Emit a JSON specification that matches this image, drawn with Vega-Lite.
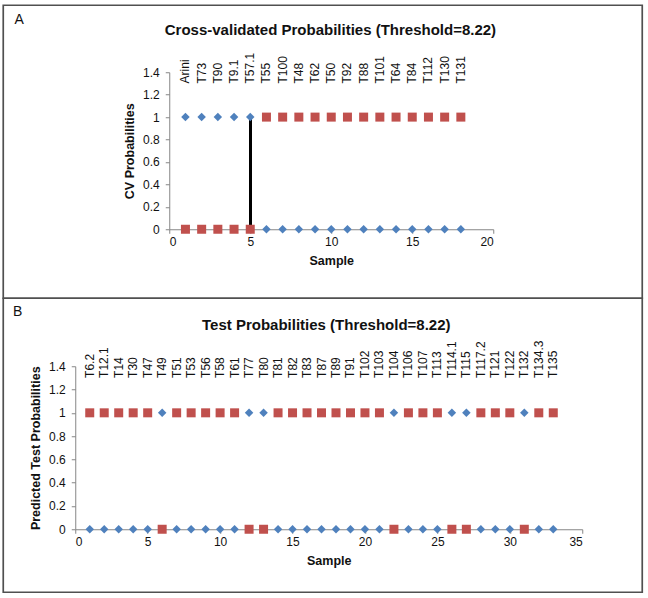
{
  "$schema": "https://vega.github.io/schema/vega-lite/v6.json",
  "padding": {"left": 2.25, "top": 4.25, "right": 5, "bottom": 5},
  "background": "white",
  "bounds": "flush",
  "spacing": 0,
  "config": {
    "view": {"stroke": "#505050", "strokeWidth": 1.7},
    "font": "Liberation Sans",
    "axis": {
      "grid": false,
      "domainColor": "#868686",
      "tickColor": "#868686",
      "tickSize": 4,
      "labelFont": "Liberation Sans",
      "labelFontSize": 12,
      "labelColor": "#111111",
      "titleFont": "Liberation Sans",
      "titleFontSize": 12.5,
      "titleFontWeight": "bold",
      "titleColor": "#111111"
    },
    "axisX": {"labelPadding": 3, "titlePadding": 7},
    "axisY": {"labelPadding": 6, "titlePadding": 6}
  },
  "resolve": {"scale": {"x": "independent", "y": "independent"}},
  "datasets": {
    "cv": [
      {"sample": 1, "label": "Arini", "blue": 1, "red": 0},
      {"sample": 2, "label": "T73", "blue": 1, "red": 0},
      {"sample": 3, "label": "T90", "blue": 1, "red": 0},
      {"sample": 4, "label": "T9.1", "blue": 1, "red": 0},
      {"sample": 5, "label": "T57.1", "blue": 1, "red": 0},
      {"sample": 6, "label": "T55", "blue": 0, "red": 1},
      {"sample": 7, "label": "T100", "blue": 0, "red": 1},
      {"sample": 8, "label": "T48", "blue": 0, "red": 1},
      {"sample": 9, "label": "T62", "blue": 0, "red": 1},
      {"sample": 10, "label": "T50", "blue": 0, "red": 1},
      {"sample": 11, "label": "T92", "blue": 0, "red": 1},
      {"sample": 12, "label": "T88", "blue": 0, "red": 1},
      {"sample": 13, "label": "T101", "blue": 0, "red": 1},
      {"sample": 14, "label": "T64", "blue": 0, "red": 1},
      {"sample": 15, "label": "T84", "blue": 0, "red": 1},
      {"sample": 16, "label": "T112", "blue": 0, "red": 1},
      {"sample": 17, "label": "T130", "blue": 0, "red": 1},
      {"sample": 18, "label": "T131", "blue": 0, "red": 1}
    ],
    "test": [
      {"sample": 1, "label": "T6.2", "blue": 0, "red": 1},
      {"sample": 2, "label": "T12.1", "blue": 0, "red": 1},
      {"sample": 3, "label": "T14", "blue": 0, "red": 1},
      {"sample": 4, "label": "T30", "blue": 0, "red": 1},
      {"sample": 5, "label": "T47", "blue": 0, "red": 1},
      {"sample": 6, "label": "T49", "blue": 1, "red": 0},
      {"sample": 7, "label": "T51", "blue": 0, "red": 1},
      {"sample": 8, "label": "T53", "blue": 0, "red": 1},
      {"sample": 9, "label": "T56", "blue": 0, "red": 1},
      {"sample": 10, "label": "T58", "blue": 0, "red": 1},
      {"sample": 11, "label": "T61", "blue": 0, "red": 1},
      {"sample": 12, "label": "T77", "blue": 1, "red": 0},
      {"sample": 13, "label": "T80", "blue": 1, "red": 0},
      {"sample": 14, "label": "T81", "blue": 0, "red": 1},
      {"sample": 15, "label": "T82", "blue": 0, "red": 1},
      {"sample": 16, "label": "T83", "blue": 0, "red": 1},
      {"sample": 17, "label": "T87", "blue": 0, "red": 1},
      {"sample": 18, "label": "T89", "blue": 0, "red": 1},
      {"sample": 19, "label": "T91", "blue": 0, "red": 1},
      {"sample": 20, "label": "T102", "blue": 0, "red": 1},
      {"sample": 21, "label": "T103", "blue": 0, "red": 1},
      {"sample": 22, "label": "T104", "blue": 1, "red": 0},
      {"sample": 23, "label": "T106", "blue": 0, "red": 1},
      {"sample": 24, "label": "T107", "blue": 0, "red": 1},
      {"sample": 25, "label": "T113", "blue": 0, "red": 1},
      {"sample": 26, "label": "T114.1", "blue": 1, "red": 0},
      {"sample": 27, "label": "T115", "blue": 1, "red": 0},
      {"sample": 28, "label": "T117.2", "blue": 0, "red": 1},
      {"sample": 29, "label": "T121", "blue": 0, "red": 1},
      {"sample": 30, "label": "T122", "blue": 0, "red": 1},
      {"sample": 31, "label": "T132", "blue": 1, "red": 0},
      {"sample": 32, "label": "T134.3", "blue": 0, "red": 1},
      {"sample": 33, "label": "T135", "blue": 0, "red": 1}
    ]
  },
  "vconcat": [
    {
      "width": 639,
      "height": 293,
      "data": {"name": "cv"},
      "layer": [
        {
          "mark": {"type": "rule", "color": "black", "strokeWidth": 2.5},
          "encoding": {
            "x": {"datum": 5, "type": "quantitative", "title": "Sample"},
            "y": {"datum": 0, "type": "quantitative", "title": "CV Probabilities"},
            "y2": {"datum": 1}
          }
        },
        {
          "mark": {"type": "point", "shape": "diamond", "filled": true, "opacity": 1, "size": 72, "color": "#4F81BD"},
          "encoding": {
            "x": {
              "field": "sample", "type": "quantitative", "title": "Sample",
              "scale": {"domain": [0, 20], "range": [166, 490], "nice": false, "zero": false},
              "axis": {"values": [0, 5, 10, 15, 20], "offset": -69}
            },
            "y": {
              "field": "blue", "type": "quantitative", "title": "CV Probabilities",
              "scale": {"domain": [0, 1.4], "range": [224, 67], "nice": false},
              "axis": {"values": [0, 0.2, 0.4, 0.6, 0.8, 1, 1.2, 1.4], "format": "~g", "offset": -166}
            }
          }
        },
        {
          "mark": {"type": "point", "shape": "square", "filled": true, "opacity": 1, "size": 81, "color": "#C0504D"},
          "encoding": {
            "x": {"field": "sample", "type": "quantitative", "title": "Sample"},
            "y": {"field": "red", "type": "quantitative", "title": "CV Probabilities"}
          }
        },
        {
          "mark": {"type": "text", "angle": 270, "align": "left", "baseline": "middle", "fontSize": 12, "font": "Liberation Sans", "color": "#111111"},
          "encoding": {
            "x": {"field": "sample", "type": "quantitative", "title": "Sample"},
            "y": {"datum": 1.3, "type": "quantitative", "title": "CV Probabilities"},
            "text": {"field": "label"}
          }
        },
        {
          "data": {"values": [{"t": "Cross-validated Probabilities (Threshold=8.22)"}]},
          "mark": {"type": "text", "align": "center", "baseline": "middle", "fontSize": 15, "fontWeight": "bold", "font": "Liberation Sans", "color": "#111111"},
          "encoding": {
            "x": {"datum": 9.95, "type": "quantitative", "title": "Sample"},
            "y": {"datum": 1.775, "type": "quantitative", "title": "CV Probabilities"},
            "text": {"field": "t"}
          }
        },
        {
          "data": {"values": [{"t": "A"}]},
          "mark": {"type": "text", "align": "center", "baseline": "middle", "fontSize": 14, "font": "Liberation Sans", "color": "#111111"},
          "encoding": {
            "x": {"datum": -9.26, "type": "quantitative", "title": "Sample"},
            "y": {"datum": 1.868, "type": "quantitative", "title": "CV Probabilities"},
            "text": {"field": "t"}
          }
        }
      ]
    },
    {
      "width": 639,
      "height": 294,
      "data": {"name": "test"},
      "layer": [
        {
          "mark": {"type": "point", "shape": "diamond", "filled": true, "opacity": 1, "size": 72, "color": "#4F81BD"},
          "encoding": {
            "x": {
              "field": "sample", "type": "quantitative", "title": "Sample",
              "scale": {"domain": [0, 35], "range": [72, 579], "nice": false, "zero": false},
              "axis": {"values": [0, 5, 10, 15, 20, 25, 30, 35], "offset": -63}
            },
            "y": {
              "field": "blue", "type": "quantitative", "title": "Predicted Test Probabilities",
              "scale": {"domain": [0, 1.4], "range": [231, 68], "nice": false},
              "axis": {"values": [0, 0.2, 0.4, 0.6, 0.8, 1, 1.2, 1.4], "format": "~g", "offset": -72}
            }
          }
        },
        {
          "mark": {"type": "point", "shape": "square", "filled": true, "opacity": 1, "size": 81, "color": "#C0504D"},
          "encoding": {
            "x": {"field": "sample", "type": "quantitative", "title": "Sample"},
            "y": {"field": "red", "type": "quantitative", "title": "Predicted Test Probabilities"}
          }
        },
        {
          "mark": {"type": "text", "angle": 270, "align": "left", "baseline": "middle", "fontSize": 12, "font": "Liberation Sans", "color": "#111111"},
          "encoding": {
            "x": {"field": "sample", "type": "quantitative", "title": "Sample"},
            "y": {"datum": 1.3, "type": "quantitative", "title": "Predicted Test Probabilities"},
            "text": {"field": "label"}
          }
        },
        {
          "data": {"values": [{"t": "Test Probabilities (Threshold=8.22)"}]},
          "mark": {"type": "text", "align": "center", "baseline": "middle", "fontSize": 15, "fontWeight": "bold", "font": "Liberation Sans", "color": "#111111"},
          "encoding": {
            "x": {"datum": 17.33, "type": "quantitative", "title": "Sample"},
            "y": {"datum": 1.758, "type": "quantitative", "title": "Predicted Test Probabilities"},
            "text": {"field": "t"}
          }
        },
        {
          "data": {"values": [{"t": "B"}]},
          "mark": {"type": "text", "align": "center", "baseline": "middle", "fontSize": 14, "font": "Liberation Sans", "color": "#111111"},
          "encoding": {
            "x": {"datum": -3.97, "type": "quantitative", "title": "Sample"},
            "y": {"datum": 1.864, "type": "quantitative", "title": "Predicted Test Probabilities"},
            "text": {"field": "t"}
          }
        }
      ]
    }
  ]
}
